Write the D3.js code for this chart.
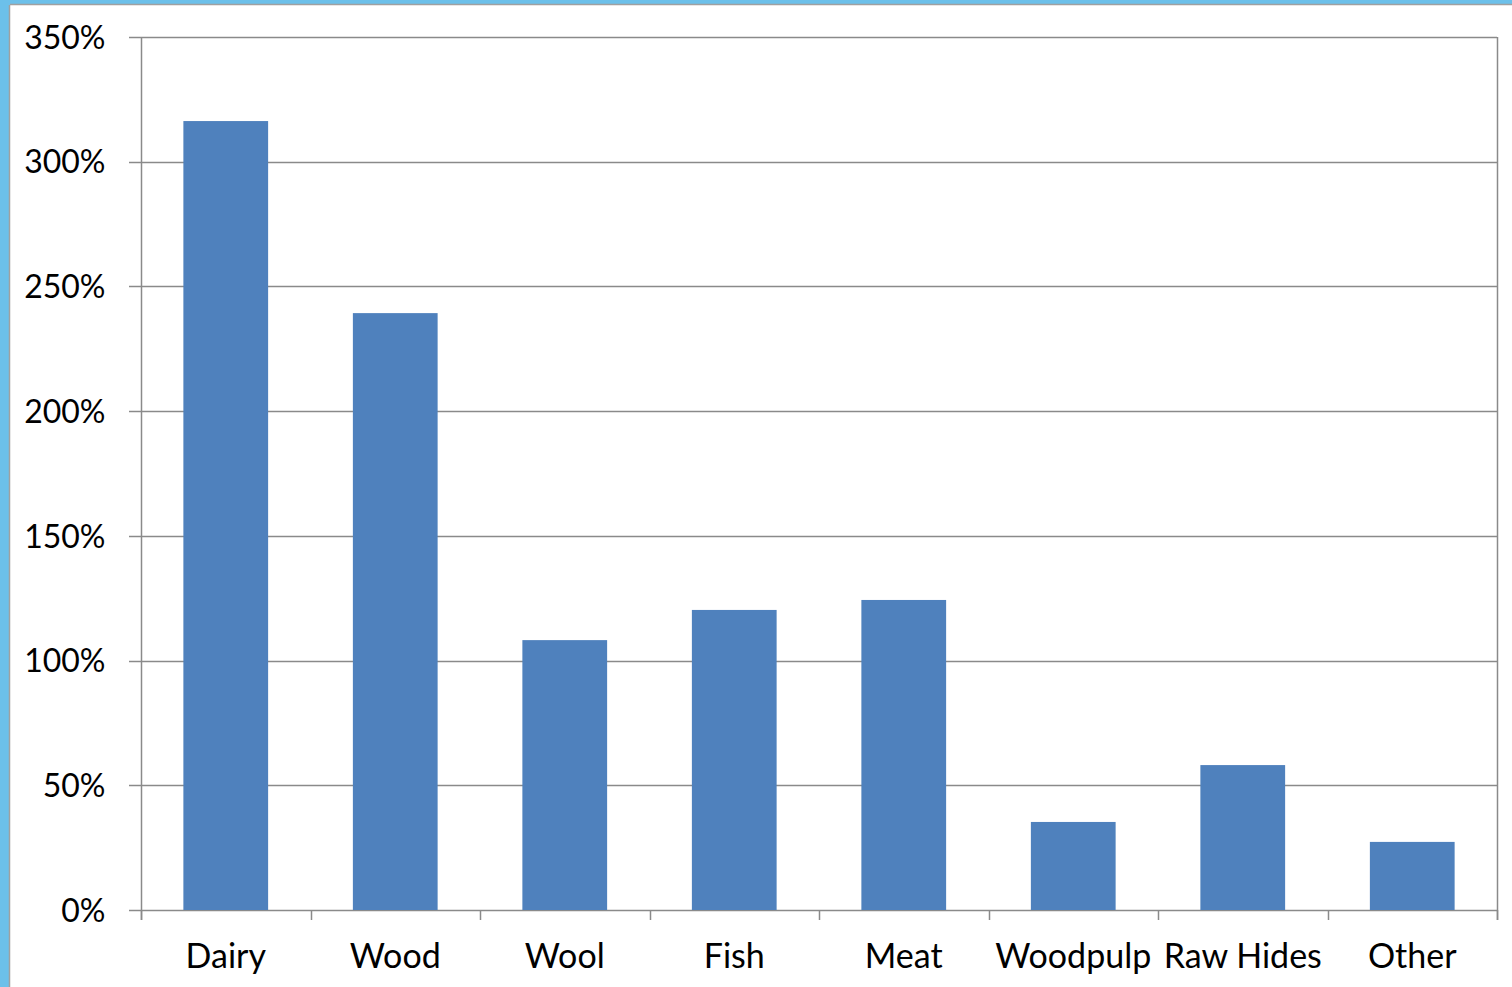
<!DOCTYPE html>
<html lang="en">
<head>
<meta charset="UTF-8">
<title>Bar chart</title>
<script src="https://cdnjs.cloudflare.com/ajax/libs/d3/7.8.5/d3.min.js"></script>
<style>
    body { margin: 0; background: #6cc0ea; }
    svg { display: block; }
    .tick text { font-family: Lato, "Open Sans", sans-serif; font-size: 32px; fill: #000; }
    .x-axis .tick text { font-size: 34px; }
</style>
</head>
<body>
<svg id="chart" width="1512" height="987"></svg>
<script>
// --- data ---
const categories = ["Dairy", "Wood", "Wool", "Fish", "Meat", "Woodpulp", "Raw Hides", "Other"];
const values = [316.3, 239.3, 108.2, 120.3, 124.3, 35.3, 58.1, 27.3];
const yTicks = [0, 50, 100, 150, 200, 250, 300, 350];

const svg = d3.select("#chart");

// white panel inside the blue frame
svg.append("rect")
    .attr("x", 10).attr("y", 5)
    .attr("width", 1502).attr("height", 982)
    .attr("fill", "#fff");
svg.append("line")
    .attr("x1", 10).attr("x2", 1512).attr("y1", 4.5).attr("y2", 4.5)
    .attr("stroke", "#a0a0a0").attr("stroke-width", 1.5);
svg.append("line")
    .attr("x1", 9.5).attr("x2", 9.5).attr("y1", 5).attr("y2", 987)
    .attr("stroke", "#a0a0a0").attr("stroke-width", 1.5);

const plot = { left: 141, top: 37, right: 1497, bottom: 910 };

const x = d3.scaleBand()
    .domain(categories)
    .range([plot.left, plot.right])
    .paddingInner(0.5)
    .paddingOuter(0.25);

const y = d3.scaleLinear()
    .domain([0, 350])
    .range([plot.bottom, plot.top]);

// gridlines
svg.append("g")
    .selectAll("line")
    .data(yTicks)
    .join("line")
    .attr("x1", plot.left - 12)
    .attr("x2", plot.right)
    .attr("y1", d => Math.round(y(d)) + 0.5)
    .attr("y2", d => Math.round(y(d)) + 0.5)
    .attr("stroke", "#8a8a8a")
    .attr("stroke-width", 1.3);

// right border
svg.append("line")
    .attr("x1", plot.right + 0.5).attr("x2", plot.right + 0.5)
    .attr("y1", plot.top).attr("y2", plot.bottom + 10)
    .attr("stroke", "#8a8a8a").attr("stroke-width", 1.5);

// bars
svg.append("g")
    .selectAll("rect")
    .data(categories)
    .join("rect")
    .attr("x", d => x(d))
    .attr("width", x.bandwidth())
    .attr("y", (d, i) => y(values[i]))
    .attr("height", (d, i) => y(0) - y(values[i]))
    .attr("fill", "#4f81bd");

// y axis
const yAxis = svg.append("g")
    .attr("transform", `translate(${plot.left + 0.5},0)`)
    .call(d3.axisLeft(y).tickValues(yTicks).tickFormat(d => d + "%").tickSize(0).tickPadding(36));
yAxis.select(".domain").attr("stroke", "#8a8a8a").attr("stroke-width", 1.5)
    .attr("d", `M0,${plot.top}V${plot.bottom + 10}`);
yAxis.selectAll(".tick text").attr("dy", "0.35em");

// x axis: ticks at band boundaries
const boundaries = d3.range(categories.length + 1).map(i => plot.left + i * x.step());
svg.append("g")
    .selectAll("line")
    .data(boundaries)
    .join("line")
    .attr("x1", d => Math.round(d) + 0.5)
    .attr("x2", d => Math.round(d) + 0.5)
    .attr("y1", plot.bottom)
    .attr("y2", plot.bottom + 10)
    .attr("stroke", "#8a8a8a")
    .attr("stroke-width", 1.5);

const xAxis = svg.append("g")
    .attr("class", "x-axis")
    .attr("transform", `translate(0,${plot.bottom})`)
    .call(d3.axisBottom(x).tickSize(0).tickPadding(34));
xAxis.select(".domain").remove();
</script>
</body>
</html>
